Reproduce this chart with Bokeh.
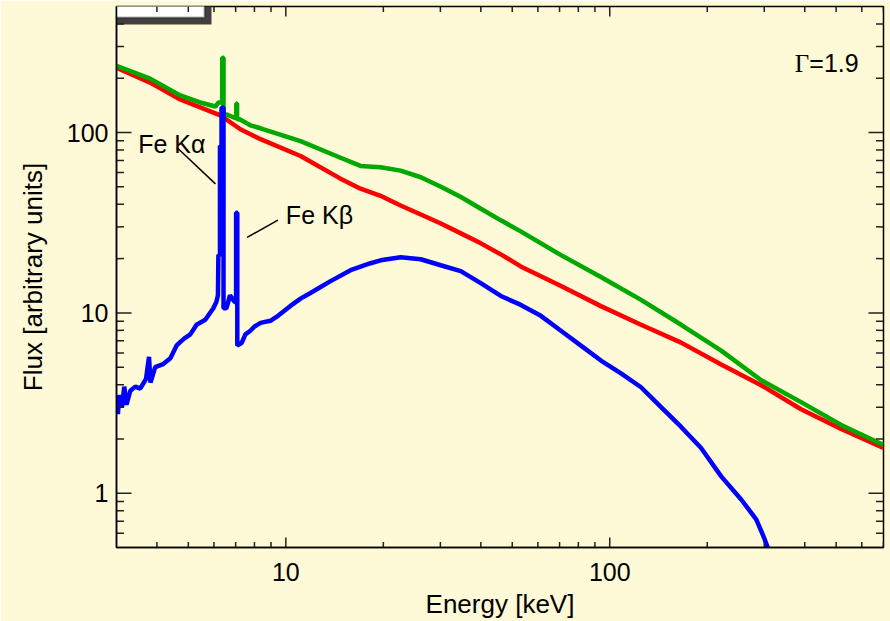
import math
from bokeh.plotting import figure
from bokeh.models import (Range1d, FixedTicker, PrintfTickFormatter, Label,
                          BoxAnnotation)
from bokeh.embed import file_html
from bokeh.resources import INLINE

# ---------------- data ----------------
# primary power law (red)
red_energy = [3.0, 3.81, 4.72, 5.44, 6.28, 7.24, 8.35, 11.1, 14.75, 17.0, 19.6, 22.6,
              26.1, 30.1, 34.7, 40.0, 46.1, 53.1, 70.7, 93.9, 124.9, 166.1, 220.8,
              293.5, 389.6, 518.2, 700.0]
red_flux = [228.8, 189.2, 152.5, 137.8, 124.5, 104.3, 91.9, 74.1, 55.5, 48.8, 44.6, 39.4,
            35.1, 31.3, 27.6, 24.3, 21.1, 18.1, 14.1, 10.9, 8.59, 6.84, 5.17,
            3.97, 2.92, 2.27, 1.78]

# total spectrum (green)
green_energy = [3.0, 3.81, 4.72, 5.44, 6.06, 6.2, 6.36, 6.36, 6.42, 6.42, 6.55,
                7.0, 7.03, 7.03, 7.07, 7.07, 7.2, 7.77, 8.35, 11.1, 14.75, 17.0,
                19.6, 22.6, 26.1, 30.1, 34.7, 40.0, 46.1, 53.1, 70.7, 93.9, 124.9,
                166.1, 220.8, 293.5, 389.6, 518.2, 700.0]
green_flux = [234.6, 199.0, 160.5, 146.8, 139.5, 146.8, 146.8, 259.7, 259.7, 126.1, 126.1,
              120.0, 120.0, 144.9, 144.9, 118.4, 118.4, 109.7, 105.6, 89.6, 72.5, 65.3,
              64.2, 61.5, 56.5, 50.0, 43.9, 37.8, 32.6, 28.3, 20.9, 15.8, 11.8,
              8.59, 6.18, 4.23, 3.20, 2.39, 1.85]

# reflection component (blue)
blue_energy = [3.0, 3.03, 3.06, 3.12, 3.17, 3.22, 3.31, 3.43, 3.55, 3.7, 3.78, 3.82,
               3.95, 4.18, 4.4, 4.6, 4.85, 5.07, 5.3, 5.64, 5.97, 6.1, 6.17, 6.19,
               6.26, 6.26, 6.33, 6.33, 6.42, 6.42, 6.55, 6.62, 6.72, 6.95, 7.02,
               7.02, 7.08, 7.08, 7.3, 7.5, 7.77, 8.0, 8.35, 8.96, 9.5, 10.33, 11.1,
               11.91, 13.74, 15.84, 18.26, 19.61, 22.61, 26.08, 30.07, 34.67, 39.96,
               46.09, 53.14, 61.28, 70.66, 81.47, 93.93, 108.3, 124.9, 144.0, 166.1,
               191.4, 220.8, 254.5, 283.2, 299.9, 310.0]
blue_flux = [3.4, 2.75, 3.5, 3.0, 3.9, 3.1, 3.7, 3.9, 3.8, 4.3, 5.7, 4.1,
             5.0, 5.2, 5.6, 6.6, 7.2, 7.6, 8.6, 9.15, 10.6, 11.5, 12.5, 20.9,
             20.9, 84.1, 84.1, 137.8, 137.8, 10.6, 10.6, 11.3, 12.5, 11.5, 11.5,
             35.9, 35.9, 6.6, 6.8, 7.6, 7.96, 8.4, 8.8, 9.04, 9.7, 10.93, 12.0,
             12.88, 15.0, 17.24, 18.85, 19.57, 20.33, 19.83, 18.37, 17.03, 14.63,
             12.41, 11.07, 9.63, 7.96, 6.58, 5.44, 4.62, 3.87, 3.00, 2.33,
             1.78, 1.24, 0.923, 0.717, 0.563, 0.48]

# axis ticks
x_major = [10, 100]
x_minor = [4, 5, 6, 7, 8, 9, 20, 30, 40, 50, 60, 70, 80, 90, 200, 300, 400, 500, 600, 700]
y_major = [1, 10, 100]
y_minor = [0.6, 0.7, 0.8, 0.9, 2, 3, 4, 5, 6, 7, 8, 9,
           20, 30, 40, 50, 60, 70, 80, 90, 200, 300, 400]
x_lo, x_hi = 3, 700
y_lo, y_hi = 0.5, 500

# annotations (data coordinates)
kalpha_text = "Fe K\u03b1"
kalpha_pos = (3.50, 86.2)
kalpha_leader_e = [4.61, 6.06]
kalpha_leader_f = [82.7, 51.9]
kbeta_text = "Fe K\u03b2"
kbeta_pos = (10.0, 35.1)
kbeta_leader_e = [7.59, 9.45]
kbeta_leader_f = [26.2, 32.7]
gamma_pos = (413.0, 243.0)
gamma_value = "=1.9"

BG = "#FEF9D6"
FONT = "Liberation Sans"
FS_TICK = "25px"
FS_AX = "26px"
FS_ANN = "25px"
TICK_COLOR = "#222222"

# layout of the frame (pixels)
FRAME_L, FRAME_R, FRAME_T, FRAME_B = 116, 883, 6, 550
W, H = 890, 621

p = figure(width=W, height=H, x_axis_type="log", y_axis_type="log",
           x_range=Range1d(x_lo, x_hi), y_range=Range1d(y_lo, y_hi),
           output_backend="svg", toolbar_location=None,
           min_border_left=FRAME_L, min_border_right=W - FRAME_R,
           min_border_top=FRAME_T, min_border_bottom=H - FRAME_B,
           background_fill_color=BG, border_fill_color=BG)
p.xgrid.visible = False
p.ygrid.visible = False
p.outline_line_color = "black"
p.outline_line_width = 1.5

# box with drop shadow in the top-left corner (canvas pixels)
p.add_layout(BoxAnnotation(left=-20, right=211, top=-20, bottom=24,
                           left_units="canvas", right_units="canvas",
                           top_units="canvas", bottom_units="canvas",
                           fill_color="#404040", fill_alpha=1.0, line_color=None,
                           level="underlay"))
p.add_layout(BoxAnnotation(left=-20, right=204, top=-20, bottom=17,
                           left_units="canvas", right_units="canvas",
                           top_units="canvas", bottom_units="canvas",
                           fill_color="white", fill_alpha=1.0, line_color="black",
                           line_width=2, level="underlay"))

# axes (labels only; ticks are drawn inward below)
for ax, major in ((p.xaxis[0], x_major), (p.yaxis[0], y_major)):
    ax.ticker = FixedTicker(ticks=major, minor_ticks=[])
    ax.formatter = PrintfTickFormatter(format="%d")
    ax.major_tick_in = 0
    ax.major_tick_out = 0
    ax.minor_tick_in = 0
    ax.minor_tick_out = 0
    ax.major_tick_line_color = None
    ax.minor_tick_line_color = None
    ax.axis_line_color = "black"
    ax.axis_line_width = 1.5
    ax.major_label_text_font = FONT
    ax.major_label_text_font_size = FS_TICK
    ax.major_label_text_color = "black"
    ax.axis_label_text_font = FONT
    ax.axis_label_text_font_size = FS_AX
    ax.axis_label_text_font_style = "normal"
    ax.axis_label_text_color = "black"

p.xaxis[0].axis_label = "Energy [keV]"
p.xaxis[0].major_label_standoff = 15
p.xaxis[0].axis_label_standoff = 5
p.yaxis[0].axis_label = "Flux [arbitrary units]"
p.yaxis[0].major_label_standoff = 8
p.yaxis[0].axis_label_standoff = 16

# spectra
p.line(red_energy, red_flux, line_color="#FF0000", line_width=4.5)
p.line(green_energy, green_flux, line_color="#00A800", line_width=4.5)
p.line(blue_energy, blue_flux, line_color="#0000FF", line_width=4.5)

# inward ticks on all four sides, each one its own short line (lengths in pixels)
px_dec_x = (FRAME_R - FRAME_L) / math.log10(x_hi / x_lo)
px_dec_y = (FRAME_B - FRAME_T) / math.log10(y_hi / y_lo)
for ticks, ln in ((x_major, 10), (x_minor, 5.5)):
    f = 10 ** (ln / px_dec_y)
    for t in ticks:
        p.line([t * 0.9995, t], [y_lo, y_lo * f], line_color=TICK_COLOR, line_width=1.5)
        p.line([t * 0.9995, t], [y_hi, y_hi / f], line_color=TICK_COLOR, line_width=1.5)
for ticks, ln in ((y_major, 15), (y_minor, 7.5)):
    f = 10 ** (ln / px_dec_x)
    for t in ticks:
        p.line([x_lo, x_lo * f], [t * 0.9995, t], line_color=TICK_COLOR, line_width=1.5)
        p.line([x_hi, x_hi / f], [t * 0.9995, t], line_color=TICK_COLOR, line_width=1.5)

# annotations
p.line(kalpha_leader_e, kalpha_leader_f, line_color="black", line_width=1.5)
p.line(kbeta_leader_e, kbeta_leader_f, line_color="black", line_width=1.5)
p.add_layout(Label(x=kalpha_pos[0], y=kalpha_pos[1], text=kalpha_text,
                   text_font=FONT, text_font_size=FS_ANN, text_color="black",
                   text_baseline="alphabetic", text_align="left"))
p.add_layout(Label(x=kbeta_pos[0], y=kbeta_pos[1], text=kbeta_text,
                   text_font=FONT, text_font_size=FS_ANN, text_color="black",
                   text_baseline="alphabetic", text_align="left"))
p.add_layout(Label(x=gamma_pos[0], y=gamma_pos[1], text="\u0393",
                   text_font="Liberation Serif", text_font_size=FS_ANN,
                   text_color="black", text_baseline="alphabetic", text_align="right"))
p.add_layout(Label(x=gamma_pos[0], y=gamma_pos[1], text=gamma_value,
                   text_font=FONT, text_font_size=FS_ANN, text_color="black",
                   text_baseline="alphabetic", text_align="left"))

open("out.html", "w").write(file_html(p, INLINE))
